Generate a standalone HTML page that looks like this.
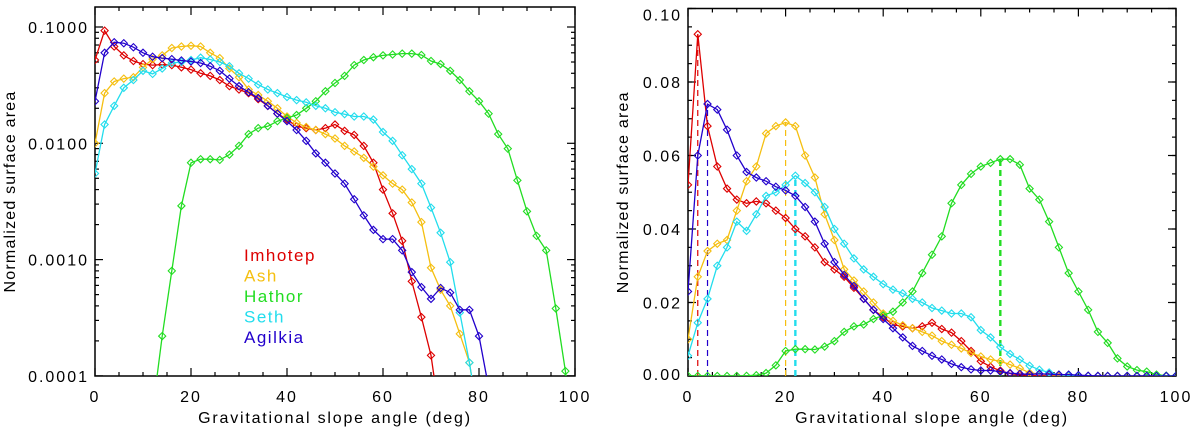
<!DOCTYPE html>
<html><head><meta charset="utf-8"><style>
html,body{margin:0;padding:0;background:#fff;overflow:hidden;width:1200px;height:433px;}
svg{display:block;font-family:"Liberation Sans",sans-serif;}
</style></head><body>
<svg id="chart" width="1200" height="433" viewBox="0 0 1200 433" xmlns="http://www.w3.org/2000/svg"></svg>
<script>
const xs = [];
for (let i = 0; i <= 50; i++) xs.push(i * 2);
const imhotep = [0.052,0.093,0.068,0.057,0.051,0.048,0.047,0.0475,0.047,0.045,0.043,0.040,0.038,0.035,0.031,0.029,0.027,0.024,0.021,0.018,0.016,0.014,0.0135,0.013,0.0135,0.0145,0.0128,0.0118,0.0095,0.0068,0.0040,0.0025,0.00145,0.00065,0.00032,0.00015,0.00004,0.00002,0.00001,0.00001,0.00001,0.00001,0.00001,0.00001,0.00001,0.00001,0.00001,0.00001,0.00001,0.00001,0.00001];
const ash = [0.010,0.027,0.034,0.036,0.037,0.045,0.053,0.057,0.066,0.068,0.069,0.068,0.060,0.054,0.044,0.037,0.029,0.026,0.023,0.020,0.017,0.015,0.0138,0.013,0.012,0.011,0.0095,0.0085,0.0075,0.0063,0.0053,0.0045,0.0040,0.0031,0.0021,0.00085,0.00055,0.0004,0.00023,0.00013,0.00004,0.00001,0.00001,0.00001,0.00001,0.00001,0.00001,0.00001,0.00001,0.00001,0.00001];
const hathor = [0.00001,0.00001,0.00001,0.00001,0.00001,0.00001,0.00005,0.00022,0.0008,0.0029,0.0068,0.0073,0.0073,0.0072,0.0080,0.0095,0.012,0.0135,0.014,0.0155,0.0165,0.0175,0.020,0.023,0.028,0.033,0.038,0.047,0.052,0.055,0.057,0.058,0.059,0.059,0.0575,0.051,0.048,0.042,0.035,0.028,0.023,0.018,0.012,0.009,0.0048,0.0026,0.0016,0.0012,0.00038,0.00011,0.00002];
const seth = [0.0055,0.0145,0.021,0.030,0.035,0.042,0.0395,0.044,0.049,0.050,0.052,0.0545,0.0525,0.050,0.046,0.040,0.036,0.032,0.029,0.027,0.025,0.0235,0.0225,0.021,0.020,0.0185,0.0178,0.017,0.017,0.016,0.0125,0.0105,0.0079,0.006,0.0045,0.0028,0.0017,0.00095,0.00035,0.00013,0.00004,0.00001,0.00001,0.00001,0.00001,0.00001,0.00001,0.00001,0.00001,0.00001,0.00001];
const agilkia = [0.023,0.060,0.074,0.0725,0.067,0.060,0.0555,0.054,0.053,0.0515,0.0505,0.049,0.046,0.042,0.036,0.031,0.0275,0.0245,0.021,0.018,0.0155,0.013,0.0105,0.0082,0.0068,0.0055,0.0045,0.0033,0.0024,0.0018,0.0015,0.0015,0.0012,0.00078,0.00058,0.00046,0.00057,0.00052,0.00037,0.00037,0.00022,0.00008,0.00002,0.00001,0.00001,0.00001,0.00001,0.00001,0.00001,0.00001,0.00001];
const seriesNames = ["Imhotep","Ash","Hathor","Seth","Agilkia"];
const seriesData = [imhotep, ash, hathor, seth, agilkia];
const seriesColors = ["#dd0000","#f5bf10","#22dd22","#22dded","#2200cc"];
const peakX = [2, 20, 64, 22, 4];
const peakWidth = [1.2, 1.2, 2.4, 2.4, 1.2];
const xTicks = [0,20,40,60,80,100];
const logTicks = [0.1,0.01,0.001,0.0001];
const logTickLabels = ["0.1000","0.0100","0.0010","0.0001"];
const linTicks = [0,0.02,0.04,0.06,0.08,0.10];
const linTickLabels = ["0.00","0.02","0.04","0.06","0.08","0.10"];

const NS = "http://www.w3.org/2000/svg";
const svg = document.getElementById('chart');
function mk(tag, attrs, parent) {
  const e = document.createElementNS(NS, tag);
  for (const k in attrs) e.setAttribute(k, attrs[k]);
  (parent || svg).appendChild(e);
  return e;
}

function panel(opts) {
  const g = mk('g', {});
  
  
  const {x0, x1, y0, y1, yScale} = opts;
  const xScale = v => x0 + (x1 - x0) * v / 100;
  const clipId = opts.name + '-clip';
  const cp = mk('clipPath', {id: clipId}, g);
  mk('rect', {x: x0, y: y0, width: x1 - x0, height: y1 - y0}, cp);
  const fr = mk('rect', {x: x0, y: y0, width: x1 - x0, height: y1 - y0, fill: 'none', stroke: '#000', 'stroke-width': 1.5}, g);
  
  
  for (let v = 0; v <= 100; v += 5) {
    const major = v % 20 === 0;
    const L = major ? 8 : 4;
    const px = xScale(v);
    mk('line', {x1: px, y1: y1, x2: px, y2: y1 - L, stroke: '#000', 'stroke-width': 1.2}, g);
    mk('line', {x1: px, y1: y0, x2: px, y2: y0 + L, stroke: '#000', 'stroke-width': 1.2}, g);
  }
  xTicks.forEach(v => {
    const t = mk('text', {x: xScale(v), y: y1 + 26, 'text-anchor': 'middle', 'font-size': 16, 'letter-spacing': 2}, g);
    t.textContent = String(v);
    
    
  });
  const xt = mk('text', {x: (x0 + x1) / 2, y: y1 + 47, 'text-anchor': 'middle', 'font-size': 16, 'letter-spacing': 1.8}, g);
  xt.textContent = 'Gravitational slope angle (deg)';
  
  
  const yt = mk('text', {x: 0, y: 0, 'text-anchor': 'middle', 'font-size': 16, 'letter-spacing': 1.2, transform: `translate(${opts.yTitleX},${(y0 + y1) / 2}) rotate(-90)`}, g);
  yt.textContent = 'Normalized surface area';
  
  
  opts.minorY.forEach(v => {
    const py = yScale(v);
    if (py < y0 - 0.5 || py > y1 + 0.5) return;
    mk('line', {x1: x0, y1: py, x2: x0 + 4, y2: py, stroke: '#000', 'stroke-width': 1.2}, g);
    mk('line', {x1: x1, y1: py, x2: x1 - 4, y2: py, stroke: '#000', 'stroke-width': 1.2}, g);
  });
  opts.yTicks.forEach((v, i) => {
    const py = yScale(v);
    mk('line', {x1: x0, y1: py, x2: x0 + 8, y2: py, stroke: '#000', 'stroke-width': 1.2}, g);
    mk('line', {x1: x1, y1: py, x2: x1 - 8, y2: py, stroke: '#000', 'stroke-width': 1.2}, g);
    const t = mk('text', {x: x0 - 6, y: py + 6 + (opts.labelShift ? opts.labelShift(i) : 0), 'text-anchor': 'end', 'font-size': 16, 'letter-spacing': 2}, g);
    t.textContent = opts.yLabels[i];
    
    
  });
  const plot = mk('g', {'clip-path': `url(#${clipId})`}, g);
  if (opts.peaks) {
    seriesData.forEach((d, si) => {
      const idx = xs.indexOf(peakX[si]);
      const l = mk('line', {x1: xScale(peakX[si]), x2: xScale(peakX[si]), y1: y1, y2: yScale(d[idx]), stroke: seriesColors[si], 'stroke-width': peakWidth[si], 'stroke-dasharray': '6,4'}, plot);
      
      
    });
  }
  seriesData.forEach((d, si) => {
    const sg = mk('g', {}, plot);
    
    
    const pts = d.map((v, i) => `${xScale(xs[i]).toFixed(1)},${yScale(v).toFixed(1)}`).join(' ');
    mk('polyline', {points: pts, fill: 'none', stroke: seriesColors[si], 'stroke-width': 1.3}, sg);
    d.forEach((v, i) => {
      const px = xScale(xs[i]), py = yScale(v), r = 3.6;
      const m = mk('polygon', {points: `${px},${py - r} ${px + r},${py} ${px},${py + r} ${px - r},${py}`, fill: 'none', stroke: seriesColors[si], 'stroke-width': 1.1}, sg);
      
      
    });
  });
  return g;
}

const L = {x0: 95, x1: 575, y0: 7, y1: 376};
const logMinor = [];
for (let e = -4; e <= -1; e++) for (let k = 2; k <= 9; k++) logMinor.push(k * Math.pow(10, e));
const leftPanel = panel({
  name: 'left-log-panel', ...L,
  yScale: v => 27 + (-1 - Math.log10(Math.max(v, 1e-7))) * 116.3,
  yTicks: logTicks, yLabels: logTickLabels, minorY: logMinor, yTitleX: 15
});
const lg = mk('g', {}, leftPanel);


seriesNames.forEach((n, i) => {
  const t = mk('text', {x: 244, y: 261 + i * 20.5, 'font-size': 17, 'letter-spacing': 1.5, fill: seriesColors[i]}, lg);
  t.textContent = n;
  
  
});

const R = {x0: 688, x1: 1176, y0: 8.5, y1: 376};
const linMinor = [];
for (let k = 0; k <= 20; k++) linMinor.push(k * 0.005);
panel({
  name: 'right-linear-panel', ...R,
  yScale: v => 376 - v * 3675,
  yTicks: linTicks, yLabels: linTickLabels, minorY: linMinor, yTitleX: 628,
  labelShift: i => (i === 5 ? 6 : (i === 0 ? -2 : 0)),
  peaks: true
});
</script>
</body></html>
